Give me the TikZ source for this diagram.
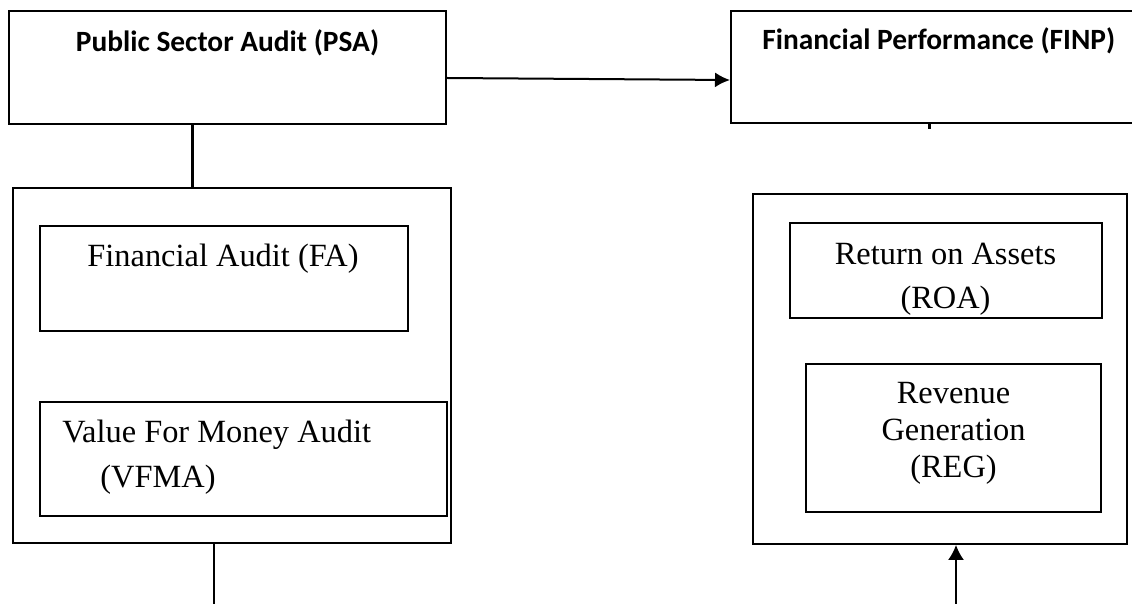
\documentclass[tikz,border=0pt]{standalone}
\usepackage{fontspec}
\setmainfont{Liberation Serif}
\newfontfamily\headfont{Carlito}
\usetikzlibrary{arrows.meta,positioning}

\begin{document}
\begin{tikzpicture}[x=0.5pt,y=-0.5pt,
  box/.style={draw, line width=1pt, inner sep=0pt},
  head/.style={font=\headfont\bfseries\fontsize{14.7}{17}\selectfont, inner sep=0pt, anchor=base},
  body/.style={font=\fontsize{16.2}{22.5}\selectfont, inner sep=0pt},
  link/.style={line width=1pt},
  thin link/.style={line width=0.8pt}]
\useasboundingbox (0,0) rectangle (1132,604);
\clip (0,0) rectangle (1132,604);
% top boxes
\node[box, minimum width=218.5pt, minimum height=56.5pt] (psa) at (227.5,67.5) {};
\node[head] (psatxt) at (227.5,52) {Public Sector Audit (PSA)};
\node[box, minimum width=206pt, minimum height=56pt] (finp) at (937,67) {};
\node[head, anchor=base west] (finptxt) at (762,50) {Financial Performance (FINP)};
% outer boxes
\node[box, minimum width=219pt, minimum height=177.5pt] (psabox) at (232,365.5) {};
\node[box, minimum width=187pt, minimum height=175pt] (finpbox) at (940,369) {};
% inner boxes
\node[box, minimum width=184pt, minimum height=52.5pt] (fa) at (224,278.5) {};
\node[body, anchor=base] (fatxt) at (223,267) {Financial Audit (FA)};
\node[box, minimum width=203.5pt, minimum height=57pt] (vfma) at (243.5,459) {};
\node[body, align=left, anchor=north west] (vfmatxt) at (62,420) {Value For Money Audit\\\hspace{19pt}(VFMA)};
\node[box, minimum width=156pt, minimum height=47.5pt] (roa) at (946,270.5) {};
\node[body, align=center, anchor=north, font=\fontsize{16.2}{22}\selectfont] (roatxt) at (945.5,243) {Return on Assets\\(ROA)};
\node[box, minimum width=147.5pt, minimum height=74pt] (reg) at (953.5,438) {};
\node[body, align=center, anchor=north, font=\fontsize{16.2}{18.5}\selectfont] (regtxt) at (953.5,382) {Revenue\\Generation\\(REG)};
% connectors
\draw[link, -{Latex[length=7.5pt,width=7.5pt]}] ([yshift=-5.25pt]psa.east) -- ([yshift=-6.5pt]finp.west);
\draw[line width=1.5pt] ([xshift=-17.75pt]psa.south) -- ([xshift=-17.75pt]psa.south |- psabox.north);
\coordinate (tickend) at (929,129);
\draw[line width=1.5pt] ([xshift=-4pt]finp.south) -- (tickend);
\coordinate (leftend) at (214,604);
\draw[thin link] ([xshift=-9pt]psabox.south) -- (leftend);
\coordinate (rightend) at (956,604);
\draw[thin link, -{Latex[length=7.5pt,width=8pt]}] (rightend) -- ([xshift=8pt]finpbox.south);
\end{tikzpicture}
\end{document}
